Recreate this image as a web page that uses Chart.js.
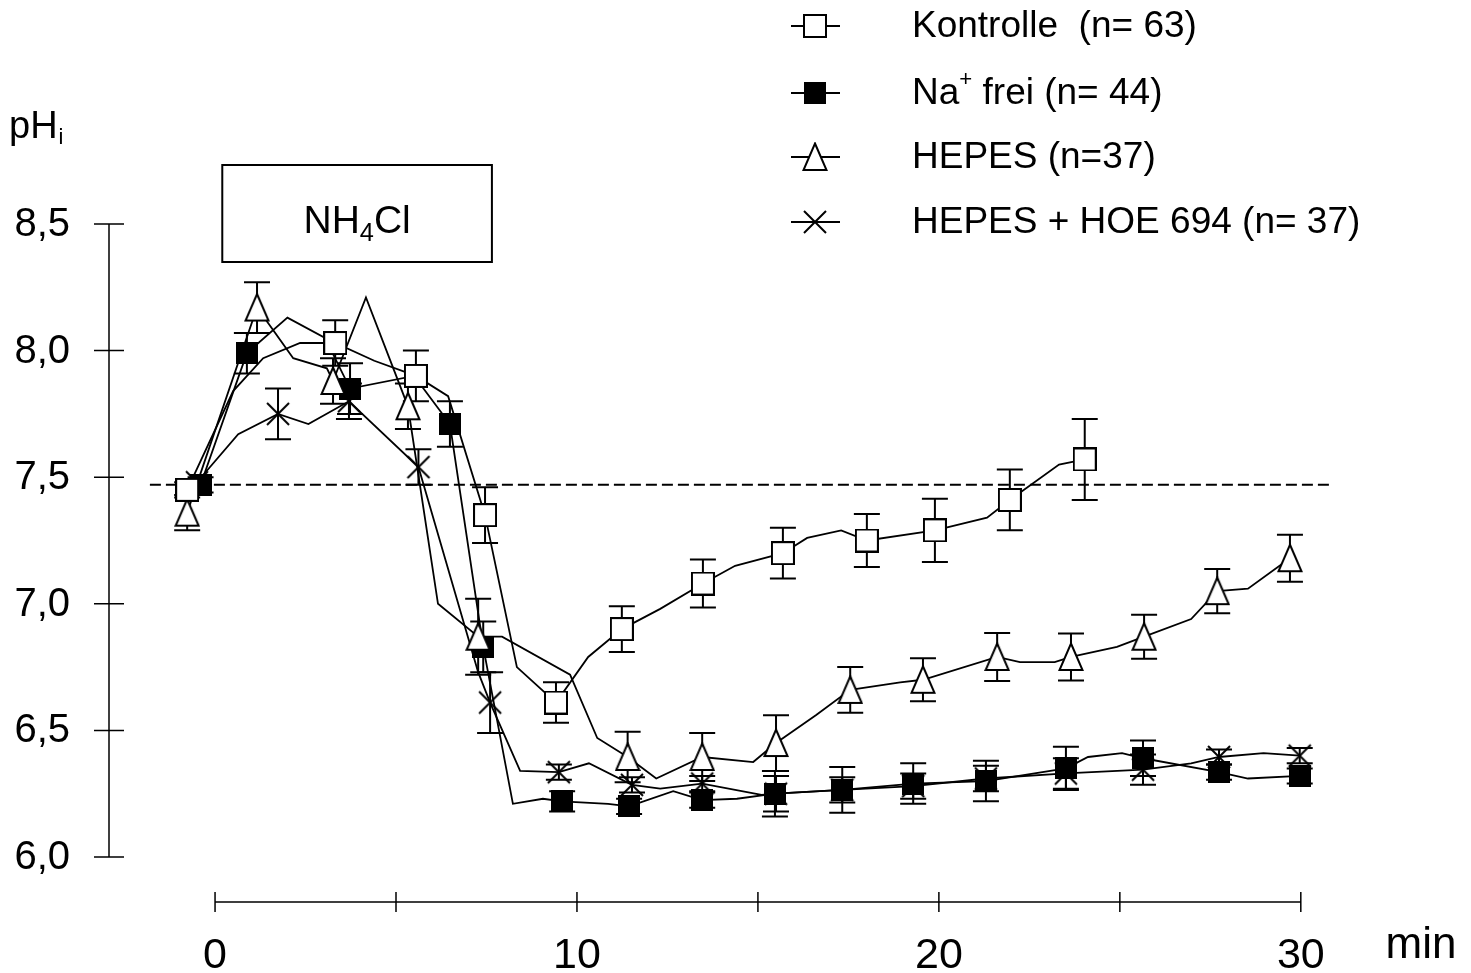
<!DOCTYPE html>
<html>
<head>
<meta charset="utf-8">
<script src="https://cdn.jsdelivr.net/npm/chart.js@4.4.1/dist/chart.umd.min.js"></script>
<style>
  html, body { margin: 0; padding: 0; background: #fff; }
  #wrap { width: 1471px; height: 973px; }
</style>
</head>
<body>
<div id="wrap"><canvas id="chart" width="1471" height="973"></canvas></div>
<script>
// pH_i time course after NH4Cl prepulse (time in min)
// err: null = line vertex without symbol, number = symbol with +/- SEM bar

const kontrolleTime = [-0.77, 0.5, 1.33, 2.35, 3.32, 4.4, 5.55, 6.44, 7.46, 8.34, 9.42, 10.31, 11.24, 12.3, 13.48, 14.37, 15.69, 16.36, 17.3, 18.01, 19.89, 21.33, 21.96, 23.32, 24.03];
const kontrollePH   = [7.45, 7.84, 7.97, 8.03, 8.03, 7.96, 7.90, 7.82, 7.35, 6.75, 6.61, 6.79, 6.90, 6.98, 7.08, 7.15, 7.20, 7.26, 7.29, 7.25, 7.29, 7.34, 7.41, 7.55, 7.57];
const kontrolleErr  = [0.03, null, null, null, 0.09, null, 0.10, null, 0.11, null, 0.08, null, 0.09, null, 0.095, null, 0.10, null, null, 0.105, 0.125, null, 0.12, null, 0.16];

const naFreiTime = [-0.4, 0.88, 2.0, 3.04, 3.73, 5.5, 6.49, 7.41, 8.23, 9.06, 9.59, 10.86, 11.44, 12.66, 13.46, 14.42, 15.47, 17.33, 19.29, 21.3, 23.51, 24.12, 25.06, 25.64, 27.74, 28.54, 29.97];
const naFreiPH   = [7.47, 7.99, 8.13, 8.05, 7.85, 7.90, 7.71, 6.83, 6.21, 6.23, 6.22, 6.21, 6.20, 6.26, 6.225, 6.23, 6.25, 6.265, 6.29, 6.30, 6.35, 6.395, 6.41, 6.39, 6.335, 6.31, 6.32];
const naFreiErr  = [0.03, 0.08, null, null, 0.10, null, 0.09, 0.10, null, null, 0.04, null, 0.03, null, 0.03, null, 0.09, 0.09, 0.08, 0.08, 0.085, null, null, 0.07, 0.03, null, 0.03];

const hepesTime = [-0.77, 1.16, 2.16, 3.09, 3.26, 4.17, 5.33, 6.16, 7.27, 7.93, 9.81, 10.56, 11.4, 12.19, 13.46, 14.87, 15.5, 16.6, 17.55, 18.93, 19.56, 21.61, 22.24, 23.2, 23.65, 24.92, 25.67, 26.97, 27.69, 28.54, 29.7];
const hepesPH   = [7.36, 8.17, 7.97, 7.93, 7.88, 8.21, 7.78, 7.00, 6.87, 6.87, 6.72, 6.47, 6.395, 6.31, 6.395, 6.375, 6.45, 6.56, 6.66, 6.69, 6.70, 6.79, 6.77, 6.77, 6.79, 6.83, 6.87, 6.94, 7.05, 7.06, 7.18];
const hepesErr  = [0.07, 0.10, null, null, 0.09, null, 0.09, null, 0.15, null, null, null, 0.10, null, 0.095, null, 0.11, null, 0.09, null, 0.085, 0.095, null, null, 0.093, null, 0.087, null, 0.087, null, 0.093];

const hoeTime = [-0.5, 0.64, 1.74, 2.58, 3.7, 5.62, 7.27, 7.6, 8.43, 9.5, 10.33, 11.52, 12.3, 13.46, 15.1, 15.5, 17.33, 19.29, 21.3, 23.51, 25.64, 26.97, 27.74, 28.97, 29.97];
const hoePH   = [7.48, 7.67, 7.75, 7.71, 7.80, 7.54, 6.73, 6.61, 6.34, 6.335, 6.37, 6.285, 6.27, 6.29, 6.245, 6.25, 6.265, 6.28, 6.31, 6.33, 6.345, 6.37, 6.395, 6.41, 6.40];
const hoeErr  = [0, null, 0.10, null, 0.07, 0.07, null, 0.12, null, 0.03, null, 0.03, null, 0.03, null, 0.07, 0.05, 0.05, 0.05, 0.06, 0.06, null, 0.03, null, 0.03];

const yTicks = [6.0, 6.5, 7.0, 7.5, 8.0, 8.5];
const xTicks = [0, 5, 10, 15, 20, 25, 30];
const xTickLabels = ['0', '', '10', '', '20', '', '30'];
const baselinePH = 7.47;
const baselineFrom = -1.8, baselineTo = 30.8;
const nh4clFrom = 0.2, nh4clTo = 7.65;   // application period (box)

// ---- symbols ----
function makeSymbol(kind) {
  const c = document.createElement('canvas');
  const g = c.getContext('2d');
  g.lineWidth = 2;
  g.strokeStyle = '#000';
  if (kind === 'openSquare') {
    c.width = 24; c.height = 24;
    g.lineWidth = 2; g.fillStyle = '#fff';
    g.fillRect(1, 1, 22, 22); g.strokeRect(1, 1, 22, 22);
  } else if (kind === 'filledSquare') {
    c.width = 22; c.height = 22;
    g.fillStyle = '#000'; g.fillRect(0, 0, 22, 22);
  } else if (kind === 'triangle') {
    c.width = 26; c.height = 30;
    g.lineWidth = 2; g.strokeStyle = '#000'; g.fillStyle = '#fff';
    g.beginPath(); g.moveTo(13, 1.5); g.lineTo(24.5, 28); g.lineTo(1.5, 28); g.closePath();
    g.fill(); g.stroke();
  } else if (kind === 'cross') {
    c.width = 26; c.height = 26;
    g.lineWidth = 2; g.strokeStyle = '#000';
    g.beginPath(); g.moveTo(2, 2); g.lineTo(24, 24); g.moveTo(24, 2); g.lineTo(2, 24); g.stroke();
  }
  return c;
}

const series = [
  { label: [['Kontrolle  (n= 63)']], time: kontrolleTime, ph: kontrollePH, err: kontrolleErr, sym: makeSymbol('openSquare') },
  { label: [['Na'], ['+', 'sup'], [' frei (n= 44)']], time: naFreiTime, ph: naFreiPH, err: naFreiErr, sym: makeSymbol('filledSquare') },
  { label: [['HEPES (n=37)']], time: hepesTime, ph: hepesPH, err: hepesErr, sym: makeSymbol('triangle') },
  { label: [['HEPES + HOE 694 (n= 37)']], time: hoeTime, ph: hoePH, err: hoeErr, sym: makeSymbol('cross') }
];
// drawing order: first dataset ends up on top
const drawOrder = [0, 2, 1, 3];

const FONT = '"Liberation Sans", Arial, Helvetica, sans-serif';

function drawRich(ctx, parts, x, y, size) {
  let cx = x;
  parts.forEach(([txt, mode]) => {
    let fs = size, dy = 0;
    if (mode === 'sup') { fs = size * 0.6; dy = -size * 0.38; }
    if (mode === 'sub') { fs = size * 0.65; dy = size * 0.2; }
    ctx.font = fs + 'px ' + FONT;
    ctx.fillText(txt, cx, y + dy);
    cx += ctx.measureText(txt).width;
  });
  return cx;
}

function richWidth(ctx, parts, size) {
  let w = 0;
  parts.forEach(([txt, mode]) => {
    let fs = size;
    if (mode === 'sup') fs = size * 0.6;
    if (mode === 'sub') fs = size * 0.65;
    ctx.font = fs + 'px ' + FONT;
    w += ctx.measureText(txt).width;
  });
  return w;
}

const figurePlugin = {
  id: 'figure',
  beforeDatasetsDraw(chart) {
    const { ctx, scales: { x, y } } = chart;
    ctx.save();
    ctx.strokeStyle = '#000';
    ctx.lineWidth = 2;
    series.forEach(s => {
      s.time.forEach((t, i) => {
        const e = s.err[i];
        if (!e) return;
        const px = x.getPixelForValue(t);
        const top = y.getPixelForValue(s.ph[i] + e);
        const bot = y.getPixelForValue(s.ph[i] - e);
        ctx.beginPath();
        ctx.moveTo(px, top); ctx.lineTo(px, bot);
        ctx.moveTo(px - 13, top); ctx.lineTo(px + 13, top);
        ctx.moveTo(px - 13, bot); ctx.lineTo(px + 13, bot);
        ctx.stroke();
      });
    });
    ctx.restore();
  },
  afterDraw(chart) {
    const { ctx, scales: { x, y } } = chart;
    ctx.save();
    ctx.strokeStyle = '#000';
    ctx.fillStyle = '#000';
    ctx.lineWidth = 1.5;

    // y axis (offset, 6,0 .. 8,5)
    const ax = x.getPixelForValue(x.min);
    ctx.beginPath();
    ctx.moveTo(ax, y.getPixelForValue(yTicks[0]));
    ctx.lineTo(ax, y.getPixelForValue(yTicks[yTicks.length - 1]));
    yTicks.forEach(v => {
      const py = y.getPixelForValue(v);
      ctx.moveTo(ax - 15, py); ctx.lineTo(ax + 15, py);
    });
    ctx.stroke();
    ctx.font = '40px ' + FONT;
    ctx.textAlign = 'right';
    ctx.textBaseline = 'middle';
    yTicks.forEach(v => {
      ctx.fillText(v.toFixed(1).replace('.', ','), ax - 39, y.getPixelForValue(v) + 1);
    });

    // y title pH_i
    ctx.textAlign = 'left';
    ctx.textBaseline = 'alphabetic';
    ctx.font = '38px ' + FONT;
    ctx.fillText('pH', 9, 138);
    const pw = ctx.measureText('pH').width;
    ctx.font = '22px ' + FONT;
    ctx.fillText('i', 9 + pw + 1, 144);

    // x axis, drawn below the y range
    const ay = y.getPixelForValue(y.min) + 45;
    ctx.beginPath();
    ctx.moveTo(x.getPixelForValue(xTicks[0]), ay);
    ctx.lineTo(x.getPixelForValue(xTicks[xTicks.length - 1]), ay);
    xTicks.forEach(t => {
      const px = x.getPixelForValue(t);
      ctx.moveTo(px, ay - 10); ctx.lineTo(px, ay + 10);
    });
    ctx.stroke();
    ctx.font = '43px ' + FONT;
    ctx.textAlign = 'center';
    xTicks.forEach((t, i) => {
      if (xTickLabels[i]) ctx.fillText(xTickLabels[i], x.getPixelForValue(t), 968);
    });
    ctx.font = '44px ' + FONT;
    ctx.fillText('min', 1421, 958);

    // NH4Cl box
    const bx1 = x.getPixelForValue(nh4clFrom), bx2 = x.getPixelForValue(nh4clTo);
    const by1 = 165, by2 = 262;
    ctx.lineWidth = 2;
    ctx.strokeRect(bx1, by1, bx2 - bx1, by2 - by1);
    ctx.textAlign = 'left';
    const nhParts = [['NH'], ['4', 'sub'], ['Cl']];
    const nw = richWidth(ctx, nhParts, 39);
    drawRich(ctx, nhParts, (bx1 + bx2) / 2 - nw / 2, 233, 39);

    // legend
    const rowsY = [26, 93, 157, 222];
    series.forEach((s, i) => {
      const ry = rowsY[i];
      ctx.lineWidth = 2;
      ctx.beginPath(); ctx.moveTo(791, ry); ctx.lineTo(840, ry); ctx.stroke();
      ctx.drawImage(s.sym, 815 - s.sym.width / 2, ry - s.sym.height / 2);
      ctx.textBaseline = 'middle';
      drawRich(ctx, s.label, 912, ry + 1, 37);
    });
    ctx.restore();
  }
};

const datasets = drawOrder.map(i => {
  const s = series[i];
  return {
    label: s.label.map(p => p[0]).join(''),
    data: s.time.map((t, k) => ({ x: t, y: s.ph[k] })),
    borderColor: '#000',
    borderWidth: 1.8,
    tension: 0,
    pointStyle: s.sym,
    pointRadius: ctx => (s.err[ctx.dataIndex] === null ? 0 : 12),
    clip: false
  };
});
datasets.push({
  label: 'baseline',
  data: [{ x: baselineFrom, y: baselinePH }, { x: baselineTo, y: baselinePH }],
  borderColor: '#000',
  borderWidth: 2,
  borderDash: [11, 5],
  pointRadius: 0,
  clip: false
});

new Chart(document.getElementById('chart'), {
  type: 'line',
  data: { datasets },
  options: {
    responsive: false,
    animation: false,
    events: [],
    layout: { padding: { left: 109, right: 134, top: 224, bottom: 116 } },
    scales: {
      x: { type: 'linear', min: -2.93, max: 31, display: false },
      y: { type: 'linear', min: 6.0, max: 8.5, display: false }
    },
    plugins: { legend: { display: false }, tooltip: { enabled: false } }
  },
  plugins: [figurePlugin]
});
</script>
</body>
</html>
